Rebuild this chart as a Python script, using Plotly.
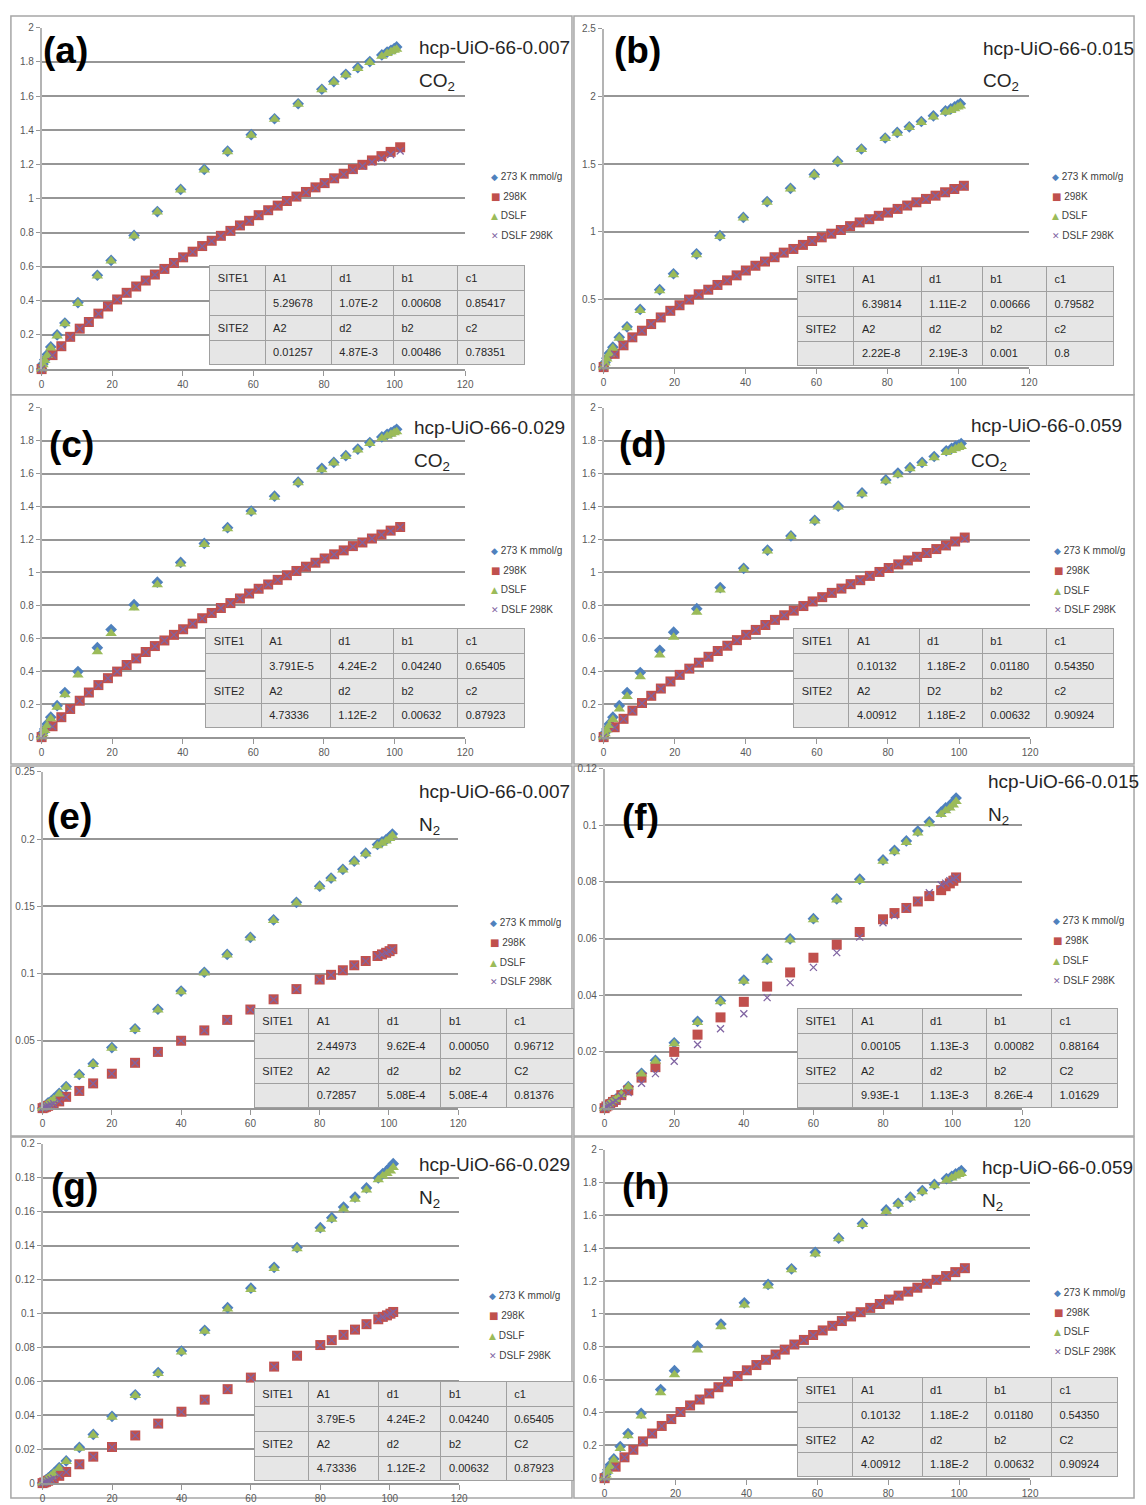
import plotly.graph_objects as go

# ---------------- data ----------------
P_CO2_273 = [0, 0.4, 0.9, 1.6, 2.6, 4.4, 6.6, 10.3, 15.8, 19.7, 26.2, 32.8, 39.4, 46.1, 52.7, 59.4,
             66.0, 72.7, 79.4, 82.8, 86.2, 89.6, 93.0, 96.4, 97.9, 99.0, 99.9, 100.6]
P_CO2_298 = [0, 3.1, 5.6, 8.1, 10.8, 13.4, 16.1, 18.8, 21.4, 24.1, 26.8, 29.5, 32.1, 34.8, 37.5, 40.1,
             42.8, 45.5, 48.2, 50.8, 53.5, 56.2, 58.8, 61.5, 64.2, 66.9, 69.5, 72.2, 74.9, 77.6, 80.2,
             82.9, 85.6, 88.2, 90.9, 93.6, 96.3, 98.9, 101.6]
P_N2 = [0, 0.5, 1.0, 1.6, 2.4, 3.2, 4.8, 6.8, 10.6, 14.6, 20.0, 26.7, 33.3, 40.0, 46.7, 53.3, 60.0,
        66.7, 73.3, 80.0, 83.3, 86.7, 90.0, 93.3, 96.7, 98.0, 99.2, 100.2, 101.0]

SERIES_NAMES = ["273 K mmol/g", "298K", "DSLF", "DSLF 298K"]

A_273 = [0, 0.030, 0.055, 0.085, 0.130, 0.200, 0.270, 0.390, 0.550, 0.637, 0.783, 0.923, 1.053, 1.170,
         1.277, 1.374, 1.467, 1.555, 1.640, 1.685, 1.728, 1.767, 1.802, 1.841, 1.858, 1.868, 1.878, 1.888]
A_DSLF = [0, 0.026, 0.050, 0.080, 0.124, 0.194, 0.265, 0.384, 0.545, 0.633, 0.780, 0.920, 1.050, 1.167,
          1.274, 1.371, 1.464, 1.552, 1.637, 1.681, 1.723, 1.762, 1.797, 1.834, 1.850, 1.860, 1.868, 1.875]
A_298 = [0, 0.082, 0.134, 0.189, 0.237, 0.276, 0.325, 0.367, 0.408, 0.447, 0.484, 0.519, 0.554, 0.587,
         0.622, 0.655, 0.688, 0.721, 0.752, 0.781, 0.810, 0.842, 0.869, 0.902, 0.931, 0.958, 0.985, 1.011,
         1.038, 1.065, 1.090, 1.118, 1.145, 1.172, 1.197, 1.223, 1.248, 1.273, 1.300]
A_DSLF298 = [0, 0.081, 0.133, 0.188, 0.236, 0.276, 0.324, 0.366, 0.407, 0.446, 0.483, 0.518, 0.553, 0.587,
             0.621, 0.654, 0.687, 0.720, 0.751, 0.780, 0.809, 0.840, 0.868, 0.900, 0.929, 0.956, 0.983, 1.009,
             1.036, 1.062, 1.088, 1.115, 1.141, 1.166, 1.190, 1.214, 1.236, 1.258, 1.278]

B_273 = [0, 0.034, 0.066, 0.103, 0.147, 0.220, 0.298, 0.426, 0.572, 0.690, 0.837, 0.971, 1.106, 1.223,
         1.321, 1.424, 1.521, 1.612, 1.693, 1.734, 1.776, 1.815, 1.857, 1.893, 1.908, 1.923, 1.937, 1.947]
B_DSLF = [0, 0.030, 0.060, 0.097, 0.140, 0.213, 0.291, 0.418, 0.565, 0.683, 0.830, 0.966, 1.101, 1.218,
          1.317, 1.420, 1.517, 1.608, 1.689, 1.729, 1.770, 1.808, 1.848, 1.883, 1.897, 1.910, 1.922, 1.930]
B_298 = [0, 0.098, 0.161, 0.220, 0.269, 0.318, 0.367, 0.416, 0.457, 0.499, 0.538, 0.572, 0.607, 0.641,
         0.678, 0.714, 0.749, 0.780, 0.812, 0.846, 0.873, 0.903, 0.932, 0.959, 0.986, 1.013, 1.042, 1.069,
         1.093, 1.118, 1.142, 1.169, 1.194, 1.218, 1.243, 1.267, 1.292, 1.316, 1.340]
B_DSLF298 = [0, 0.096, 0.160, 0.219, 0.269, 0.318, 0.366, 0.414, 0.456, 0.498, 0.537, 0.572, 0.607, 0.641,
             0.677, 0.713, 0.748, 0.780, 0.812, 0.845, 0.873, 0.903, 0.932, 0.959, 0.986, 1.013, 1.041, 1.068,
             1.093, 1.118, 1.142, 1.168, 1.193, 1.218, 1.242, 1.266, 1.290, 1.314, 1.337]

C_273 = [0, 0.026, 0.050, 0.080, 0.121, 0.191, 0.271, 0.398, 0.543, 0.653, 0.804, 0.941, 1.061, 1.176,
         1.272, 1.373, 1.463, 1.548, 1.632, 1.668, 1.709, 1.749, 1.789, 1.823, 1.839, 1.849, 1.859, 1.869]
C_DSLF = [0, 0.020, 0.040, 0.070, 0.111, 0.181, 0.257, 0.378, 0.519, 0.629, 0.784, 0.925, 1.051, 1.170,
          1.266, 1.367, 1.457, 1.544, 1.624, 1.664, 1.704, 1.743, 1.783, 1.815, 1.829, 1.839, 1.849, 1.855]
C_298 = [0, 0.066, 0.121, 0.171, 0.221, 0.271, 0.316, 0.358, 0.398, 0.438, 0.478, 0.517, 0.553, 0.587,
         0.621, 0.655, 0.689, 0.722, 0.754, 0.784, 0.814, 0.842, 0.872, 0.901, 0.927, 0.955, 0.983, 1.009,
         1.035, 1.059, 1.085, 1.110, 1.134, 1.160, 1.182, 1.206, 1.230, 1.254, 1.276]
C_DSLF298 = [0, 0.064, 0.120, 0.170, 0.220, 0.270, 0.315, 0.357, 0.398, 0.438, 0.477, 0.516, 0.552, 0.587,
             0.621, 0.655, 0.688, 0.721, 0.753, 0.784, 0.814, 0.843, 0.872, 0.900, 0.927, 0.955, 0.982, 1.008,
             1.034, 1.059, 1.084, 1.109, 1.134, 1.158, 1.182, 1.206, 1.229, 1.252, 1.275]

D_273 = [0, 0.026, 0.050, 0.080, 0.121, 0.191, 0.271, 0.392, 0.527, 0.637, 0.780, 0.908, 1.025, 1.136,
         1.222, 1.317, 1.403, 1.483, 1.562, 1.604, 1.636, 1.668, 1.704, 1.739, 1.753, 1.765, 1.773, 1.783]
D_DSLF = [0, 0.020, 0.044, 0.070, 0.107, 0.171, 0.247, 0.366, 0.498, 0.607, 0.758, 0.894, 1.019, 1.130,
          1.218, 1.313, 1.397, 1.477, 1.556, 1.594, 1.630, 1.662, 1.696, 1.729, 1.741, 1.751, 1.759, 1.765]
D_298 = [0, 0.060, 0.111, 0.161, 0.207, 0.251, 0.295, 0.338, 0.378, 0.416, 0.452, 0.488, 0.523, 0.555,
         0.589, 0.621, 0.651, 0.681, 0.712, 0.740, 0.768, 0.796, 0.824, 0.850, 0.876, 0.902, 0.929, 0.953,
         0.979, 1.003, 1.027, 1.049, 1.073, 1.095, 1.118, 1.142, 1.164, 1.188, 1.212]
D_DSLF298 = [0, 0.058, 0.110, 0.160, 0.206, 0.250, 0.294, 0.337, 0.377, 0.415, 0.452, 0.488, 0.522, 0.555,
             0.588, 0.620, 0.651, 0.681, 0.711, 0.740, 0.768, 0.796, 0.823, 0.850, 0.876, 0.902, 0.928, 0.953,
             0.978, 1.002, 1.026, 1.049, 1.072, 1.095, 1.117, 1.140, 1.162, 1.184, 1.205]

E_273 = [0, 0.001, 0.002, 0.004, 0.005, 0.007, 0.011, 0.016, 0.025, 0.033, 0.045, 0.059, 0.0735, 0.087,
         0.101, 0.1143, 0.127, 0.140, 0.153, 0.165, 0.171, 0.1775, 0.1836, 0.1895, 0.196, 0.198, 0.1996,
         0.2015, 0.2038]
E_DSLF = [0, 0.001, 0.002, 0.0035, 0.005, 0.0065, 0.0105, 0.0155, 0.0245, 0.0325, 0.0445, 0.0585, 0.073,
          0.0865, 0.1005, 0.1138, 0.1265, 0.1395, 0.1525, 0.1645, 0.1705, 0.177, 0.183, 0.189, 0.195, 0.197,
          0.1985, 0.2005, 0.2025]
E_298 = [0, 0.0005, 0.001, 0.0017, 0.0025, 0.003, 0.005, 0.0084, 0.0128, 0.0184, 0.0256, 0.0337, 0.0418,
         0.0501, 0.0578, 0.0656, 0.0733, 0.0809, 0.0885, 0.0956, 0.0991, 0.1025, 0.1062, 0.1094, 0.1131,
         0.1143, 0.1155, 0.1167, 0.1182]
E_DSLF298 = [0, 0.0006, 0.0012, 0.0018, 0.0026, 0.0032, 0.0051, 0.0083, 0.0127, 0.0183, 0.0255, 0.0336,
             0.0417, 0.0500, 0.0577, 0.0655, 0.0732, 0.0808, 0.0884, 0.0955, 0.0990, 0.1024, 0.1060, 0.1093,
             0.1129, 0.1142, 0.1154, 0.1166, 0.1180]

F_273 = [0, 0.0008, 0.0014, 0.0020, 0.0027, 0.0032, 0.0049, 0.0076, 0.0123, 0.0169, 0.0231, 0.0307, 0.0380,
         0.0453, 0.0527, 0.0599, 0.0670, 0.0740, 0.0810, 0.0878, 0.0912, 0.0945, 0.0980, 0.1013, 0.1047,
         0.1062, 0.1071, 0.1083, 0.1097]
F_DSLF = [0, 0.0007, 0.0013, 0.0019, 0.0026, 0.0031, 0.0048, 0.0075, 0.0121, 0.0166, 0.0228, 0.0303, 0.0376,
          0.0449, 0.0523, 0.0595, 0.0666, 0.0736, 0.0805, 0.0873, 0.0907, 0.0940, 0.0973, 0.1006, 0.1039,
          0.1052, 0.1062, 0.1072, 0.1085]
F_298 = [0, 0.0006, 0.0010, 0.0014, 0.0022, 0.0029, 0.0046, 0.0063, 0.0108, 0.0145, 0.0199, 0.0260, 0.0321,
         0.0376, 0.0430, 0.0480, 0.0532, 0.0578, 0.0623, 0.0668, 0.0690, 0.0708, 0.0731, 0.0750, 0.0771,
         0.0785, 0.0795, 0.0804, 0.0816]
F_DSLF298 = [0, 0.0005, 0.0009, 0.0013, 0.0020, 0.0026, 0.0043, 0.0055, 0.0088, 0.0122, 0.0166, 0.0225,
             0.0281, 0.0334, 0.0391, 0.0444, 0.0498, 0.0550, 0.0605, 0.0656, 0.0681, 0.0707, 0.0734, 0.0762,
             0.0790, 0.0796, 0.0804, 0.0810, 0.0816]

G_273 = [0, 0.0010, 0.0020, 0.0030, 0.0043, 0.0059, 0.0092, 0.0131, 0.0211, 0.0287, 0.0394, 0.0521, 0.0652,
         0.0779, 0.0901, 0.1034, 0.1149, 0.1272, 0.1389, 0.1506, 0.1565, 0.1627, 0.1686, 0.1740, 0.1799,
         0.1824, 0.1842, 0.1863, 0.1883]
G_DSLF = [0, 0.0009, 0.0018, 0.0028, 0.0041, 0.0056, 0.0088, 0.0127, 0.0206, 0.0282, 0.0389, 0.0516, 0.0646,
          0.0773, 0.0895, 0.1027, 0.1142, 0.1265, 0.1381, 0.1497, 0.1555, 0.1616, 0.1674, 0.1728, 0.1788,
          0.1810, 0.1825, 0.1840, 0.1860]
G_298 = [0, 0.0004, 0.0008, 0.0014, 0.0020, 0.0027, 0.0043, 0.0066, 0.0111, 0.0156, 0.0213, 0.0281, 0.0351,
         0.0421, 0.0492, 0.0554, 0.0622, 0.0687, 0.0751, 0.0814, 0.0843, 0.0874, 0.0905, 0.0937, 0.0966,
         0.0980, 0.0989, 0.0999, 0.1009]
G_DSLF298 = [0, 0.0005, 0.0009, 0.0015, 0.0021, 0.0028, 0.0044, 0.0066, 0.0110, 0.0155, 0.0212, 0.0280,
             0.0350, 0.0420, 0.0491, 0.0553, 0.0621, 0.0686, 0.0750, 0.0813, 0.0843, 0.0874, 0.0905, 0.0936,
             0.0966, 0.0979, 0.0989, 0.0999, 0.1008]

H_273 = [0, 0.026, 0.052, 0.081, 0.117, 0.193, 0.272, 0.395, 0.540, 0.655, 0.806, 0.939, 1.068, 1.180,
         1.275, 1.376, 1.462, 1.551, 1.634, 1.674, 1.712, 1.752, 1.789, 1.825, 1.839, 1.853, 1.861, 1.873]
H_DSLF = [0, 0.020, 0.042, 0.070, 0.111, 0.181, 0.258, 0.379, 0.520, 0.630, 0.781, 0.922, 1.054, 1.170,
          1.269, 1.366, 1.458, 1.545, 1.625, 1.668, 1.706, 1.744, 1.781, 1.815, 1.829, 1.841, 1.849, 1.855]
H_298 = [0, 0.070, 0.127, 0.173, 0.224, 0.272, 0.318, 0.360, 0.403, 0.443, 0.479, 0.516, 0.554, 0.588,
         0.622, 0.657, 0.689, 0.721, 0.753, 0.783, 0.814, 0.842, 0.872, 0.900, 0.928, 0.957, 0.985, 1.011,
         1.037, 1.061, 1.088, 1.112, 1.136, 1.160, 1.184, 1.208, 1.231, 1.255, 1.279]
H_DSLF298 = [0, 0.068, 0.126, 0.172, 0.223, 0.271, 0.317, 0.359, 0.402, 0.442, 0.479, 0.516, 0.553, 0.588,
             0.622, 0.656, 0.689, 0.721, 0.752, 0.783, 0.813, 0.842, 0.871, 0.900, 0.928, 0.956, 0.984, 1.010,
             1.036, 1.061, 1.087, 1.111, 1.135, 1.159, 1.183, 1.207, 1.230, 1.253, 1.277]

X_TICKS = [0, 20, 40, 60, 80, 100, 120]

TAB_A = [["SITE1", "A1", "d1", "b1", "c1"], ["", "5.29678", "1.07E-2", "0.00608", "0.85417"],
         ["SITE2", "A2", "d2", "b2", "c2"], ["", "0.01257", "4.87E-3", "0.00486", "0.78351"]]
TAB_B = [["SITE1", "A1", "d1", "b1", "c1"], ["", "6.39814", "1.11E-2", "0.00666", "0.79582"],
         ["SITE2", "A2", "d2", "b2", "c2"], ["", "2.22E-8", "2.19E-3", "0.001", "0.8"]]
TAB_C = [["SITE1", "A1", "d1", "b1", "c1"], ["", "3.791E-5", "4.24E-2", "0.04240", "0.65405"],
         ["SITE2", "A2", "d2", "b2", "c2"], ["", "4.73336", "1.12E-2", "0.00632", "0.87923"]]
TAB_D = [["SITE1", "A1", "d1", "b1", "c1"], ["", "0.10132", "1.18E-2", "0.01180", "0.54350"],
         ["SITE2", "A2", "D2", "b2", "c2"], ["", "4.00912", "1.18E-2", "0.00632", "0.90924"]]
TAB_E = [["SITE1", "A1", "d1", "b1", "c1"], ["", "2.44973", "9.62E-4", "0.00050", "0.96712"],
         ["SITE2", "A2", "d2", "b2", "C2"], ["", "0.72857", "5.08E-4", "5.08E-4", "0.81376"]]
TAB_F = [["SITE1", "A1", "d1", "b1", "c1"], ["", "0.00105", "1.13E-3", "0.00082", "0.88164"],
         ["SITE2", "A2", "d2", "b2", "C2"], ["", "9.93E-1", "1.13E-3", "8.26E-4", "1.01629"]]
TAB_G = [["SITE1", "A1", "d1", "b1", "c1"], ["", "3.79E-5", "4.24E-2", "0.04240", "0.65405"],
         ["SITE2", "A2", "d2", "b2", "C2"], ["", "4.73336", "1.12E-2", "0.00632", "0.87923"]]
TAB_H = [["SITE1", "A1", "d1", "b1", "c1"], ["", "0.10132", "1.18E-2", "0.01180", "0.54350"],
         ["SITE2", "A2", "d2", "b2", "C2"], ["", "4.00912", "1.18E-2", "0.00632", "0.90924"]]

# ---------------- layout geometry (pixels) ----------------
W, H = 1146, 1505


def fx(x):
    return x / W


def fy(y):
    return 1 - y / H


PANELS = [
    dict(lab="(a)", title="hcp-UiO-66-0.007", gas="CO<sub>2</sub>", ymax=2.0, dtick=0.2,
         xs=(P_CO2_273, P_CO2_298), ys=(A_273, A_298, A_DSLF, A_DSLF298), tab=TAB_A,
         plot=(39, 467, 22, 366), box=(8, 575, 10, 392),
         tcols=[209, 265, 332, 395, 460, 528], ttop=262, tbot=361,
         leg=(497, [172, 192, 211, 231]), tpos=(418, 42, 77), lpos=(40, 45)),
    dict(lab="(b)", title="hcp-UiO-66-0.015", gas="CO<sub>2</sub>", ymax=2.5, dtick=0.5,
         xs=(P_CO2_273, P_CO2_298), ys=(B_273, B_298, B_DSLF, B_DSLF298), tab=TAB_B,
         plot=(607, 1037, 23, 364), box=(577, 1143, 10, 392),
         tcols=[803, 860, 928, 990, 1055, 1123], ttop=263, tbot=362,
         leg=(1064, [172, 192, 211, 231]), tpos=(988, 43, 77), lpos=(617, 45)),
    dict(lab="(c)", title="hcp-UiO-66-0.029", gas="CO<sub>2</sub>", ymax=2.0, dtick=0.2,
         xs=(P_CO2_273, P_CO2_298), ys=(C_273, C_298, C_DSLF, C_DSLF298), tab=TAB_C,
         plot=(39, 467, 405, 737), box=(8, 575, 392, 764),
         tcols=[205, 261, 331, 395, 460, 528], ttop=628, tbot=727,
         leg=(497, [549, 569, 588, 608]), tpos=(413, 425, 460), lpos=(46, 442)),
    dict(lab="(d)", title="hcp-UiO-66-0.059", gas="CO<sub>2</sub>", ymax=2.0, dtick=0.2,
         xs=(P_CO2_273, P_CO2_298), ys=(D_273, D_298, D_DSLF, D_DSLF298), tab=TAB_D,
         plot=(607, 1038, 405, 737), box=(577, 1143, 392, 764),
         tcols=[799, 855, 926, 990, 1055, 1123], ttop=628, tbot=727,
         leg=(1066, [549, 569, 589, 608]), tpos=(976, 423, 460), lpos=(622, 442)),
    dict(lab="(e)", title="hcp-UiO-66-0.007", gas="N<sub>2</sub>", ymax=0.25, dtick=0.05,
         xs=(P_N2, P_N2), ys=(E_273, E_298, E_DSLF, E_DSLF298), tab=TAB_E,
         plot=(40, 460, 772, 1111), box=(8, 575, 766, 1139),
         tcols=[254, 309, 380, 443, 509, 577], ttop=1011, tbot=1110,
         leg=(496, [924, 944, 964, 983]), tpos=(418, 792, 827), lpos=(44, 817)),
    dict(lab="(f)", title="hcp-UiO-66-0.015", gas="N<sub>2</sub>", ymax=0.12, dtick=0.02,
         xs=(P_N2, P_N2), ys=(F_273, F_298, F_DSLF, F_DSLF298), tab=TAB_F,
         plot=(608, 1030, 769, 1111), box=(577, 1143, 766, 1139),
         tcols=[803, 859, 929, 994, 1060, 1127], ttop=1011, tbot=1110,
         leg=(1065, [922, 942, 962, 982]), tpos=(993, 782, 817), lpos=(626, 818)),
    dict(lab="(g)", title="hcp-UiO-66-0.029", gas="N<sub>2</sub>", ymax=0.2, dtick=0.02,
         xs=(P_N2, P_N2), ys=(G_273, G_298, G_DSLF, G_DSLF298), tab=TAB_G,
         plot=(40, 461, 1147, 1489), box=(8, 575, 1140, 1504),
         tcols=[254, 309, 380, 443, 509, 577], ttop=1387, tbot=1486,
         leg=(495, [1300, 1320, 1340, 1360]), tpos=(418, 1168, 1203), lpos=(48, 1190)),
    dict(lab="(h)", title="hcp-UiO-66-0.059", gas="N<sub>2</sub>", ymax=2.0, dtick=0.2,
         xs=(P_CO2_273, P_CO2_298), ys=(H_273, H_298, H_DSLF, H_DSLF298), tab=TAB_H,
         plot=(608, 1038, 1153, 1484), box=(577, 1143, 1140, 1504),
         tcols=[803, 859, 929, 994, 1060, 1127], ttop=1383, tbot=1482,
         leg=(1066, [1297, 1317, 1336, 1356]), tpos=(987, 1171, 1206), lpos=(626, 1190)),
]

BLUE, RED, GREEN, PURPLE = "#4F81BD", "#C0504D", "#9BBB59", "#8064A2"
GRID = "#969696"
AXIS = "#b4b4b4"
FONT = "Liberation Sans, Arial, sans-serif"

fig = go.Figure()
layout = dict(width=W, height=H, margin=dict(l=0, r=0, t=0, b=0), paper_bgcolor="white",
              plot_bgcolor="rgba(0,0,0,0)", showlegend=False, font=dict(family=FONT))
annotations = []
shapes = []

for i, p in enumerate(PANELS, start=1):
    sx = "" if i == 1 else str(i)
    xa, ya = "x" + sx, "y" + sx
    l, r, t, b = p["plot"]
    layout["xaxis" + sx] = dict(domain=[fx(l), fx(r)], range=[0, 120], tickvals=X_TICKS, anchor=ya,
                                showgrid=False, zeroline=False, showline=True, linecolor=GRID, linewidth=1.5,
                                ticks="outside", ticklen=5, tickcolor=GRID, tickwidth=1,
                                tickfont=dict(size=10, color="#595959", family=FONT), fixedrange=True)
    layout["yaxis" + sx] = dict(domain=[fy(b), fy(t)], range=[0, p["ymax"]], dtick=p["dtick"], tick0=0,
                                anchor=xa, showgrid=True, gridcolor=GRID, gridwidth=1.5, zeroline=False,
                                showline=True, linecolor=AXIS, linewidth=1.5, ticks="outside", ticklen=4,
                                tickcolor=GRID, tickfont=dict(size=10, color="#595959", family=FONT),
                                fixedrange=True)
    x273, x298 = p["xs"]
    y273, y298, ydslf, ydslf298 = p["ys"]
    common = dict(mode="markers", xaxis=xa, yaxis=ya, cliponaxis=False, showlegend=False)
    fig.add_trace(go.Scatter(x=x273, y=y273, name=SERIES_NAMES[0],
                             marker=dict(symbol="diamond", size=9, color=BLUE), **common))
    fig.add_trace(go.Scatter(x=x298, y=y298, name=SERIES_NAMES[1],
                             marker=dict(symbol="square", size=10, color=RED), **common))
    fig.add_trace(go.Scatter(x=x273, y=ydslf, name=SERIES_NAMES[2],
                             marker=dict(symbol="triangle-up", size=10, color=GREEN), **common))
    fig.add_trace(go.Scatter(x=x298, y=ydslf298, name=SERIES_NAMES[3],
                             marker=dict(symbol="x-thin", size=7, color=PURPLE,
                                         line=dict(color=PURPLE, width=1.3)), **common))

    # table
    tab = p["tab"]
    c = p["tcols"]
    widths = [c[k + 1] - c[k] for k in range(5)]
    rowh = (p["tbot"] - p["ttop"]) / 4.0
    fig.add_trace(go.Table(
        domain=dict(x=[fx(c[0]), fx(c[5])], y=[fy(p["tbot"] + 2), fy(p["ttop"])]),
        columnwidth=widths,
        header=dict(values=tab[0], fill_color="#e6e6e6", line=dict(color="#a0a0a0", width=1),
                    align="left", font=dict(size=11, color="#262626", family=FONT), height=rowh),
        cells=dict(values=[[tab[1][k], tab[2][k], tab[3][k]] for k in range(5)], fill_color="#e6e6e6",
                   line=dict(color="#a0a0a0", width=1), align="left",
                   font=dict(size=11, color="#262626", family=FONT), height=rowh),
    ))

    # panel frame
    bx0, bx1, by0, by1 = p["box"]
    shapes.append(dict(type="rect", xref="paper", yref="paper", x0=fx(bx0), x1=fx(bx1), y0=fy(by1),
                       y1=fy(by0), line=dict(color="#a6a6a6", width=1.5), layer="below"))

    # titles
    tx, ty, gy = p["tpos"]
    annotations.append(dict(text=p["title"], x=fx(tx), y=fy(ty), xref="paper", yref="paper",
                            xanchor="left", yanchor="middle", showarrow=False,
                            font=dict(size=19, color="#262626", family=FONT)))
    annotations.append(dict(text=p["gas"], x=fx(tx), y=fy(gy), xref="paper", yref="paper",
                            xanchor="left", yanchor="middle", showarrow=False,
                            font=dict(size=19, color="#262626", family=FONT)))
    lx, lyy = p["lpos"]
    annotations.append(dict(text="<b>" + p["lab"] + "</b>", x=fx(lx - 2), y=fy(lyy), xref="paper",
                            yref="paper", xanchor="left", yanchor="middle", showarrow=False,
                            font=dict(size=37, color="black", family=FONT)))

    # legend entries
    mx, rows = p["leg"]
    syms = [("◆", BLUE, 9), ("■", RED, 10), ("▲", GREEN, 9), ("✕", PURPLE, 9)]
    for (sym, col, ssz), name, ry in zip(syms, SERIES_NAMES, rows):
        txt = ("<span style='color:%s;font-family:DejaVu Sans;font-size:%dpx'>%s</span> %s"
               % (col, ssz, sym, name))
        annotations.append(dict(text=txt, x=fx(mx - 6), y=fy(ry), xref="paper", yref="paper",
                                xanchor="left", yanchor="middle", showarrow=False,
                                font=dict(size=10, color="#404040", family=FONT)))

layout["annotations"] = annotations
layout["shapes"] = shapes
fig.update_layout(**layout)
fig.write_html("out.html")
